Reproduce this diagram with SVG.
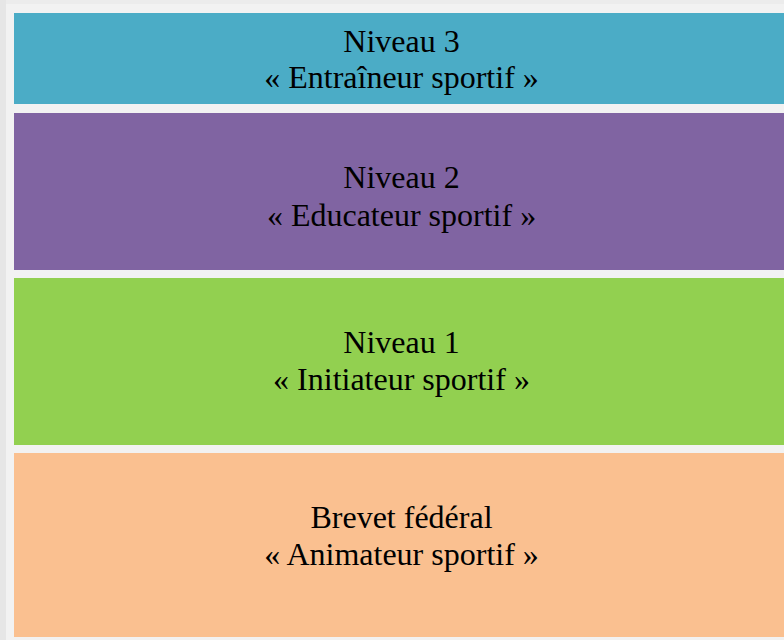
<svg xmlns="http://www.w3.org/2000/svg" width="784" height="640" viewBox="0 0 784 640">
<style>
.t{font-family:"Liberation Serif","Times New Roman",serif;font-size:32px;fill:#000;text-anchor:middle}
</style>
<rect x="0" y="0" width="784" height="640" fill="#f2f2f2"/>
<rect x="0" y="0" width="784" height="4" fill="#ececec"/>
<rect x="0" y="0" width="6" height="640" fill="#e6e6e6"/>
<g id="n3">
<rect x="14" y="13" width="770" height="91" fill="#4bacc6"/>
<text class="t" x="401.5" y="52">Niveau 3</text>
<text class="t" x="401.5" y="88">« Entraîneur sportif »</text>
</g>
<g id="n2">
<rect x="14" y="113" width="770" height="157" fill="#8064a2"/>
<text class="t" x="401.5" y="188">Niveau 2</text>
<text class="t" x="401.5" y="226">« Educateur sportif »</text>
</g>
<g id="n1">
<rect x="14" y="278" width="770" height="167" fill="#92d050"/>
<text class="t" x="401.5" y="353">Niveau 1</text>
<text class="t" x="401.5" y="390">« Initiateur sportif »</text>
</g>
<g id="n0">
<rect x="14" y="453" width="770" height="184" fill="#fac090"/>
<text class="t" x="401.5" y="528">Brevet fédéral</text>
<text class="t" x="401.5" y="565">« Animateur sportif »</text>
</g>
<g id="connectors"/>
</svg>
